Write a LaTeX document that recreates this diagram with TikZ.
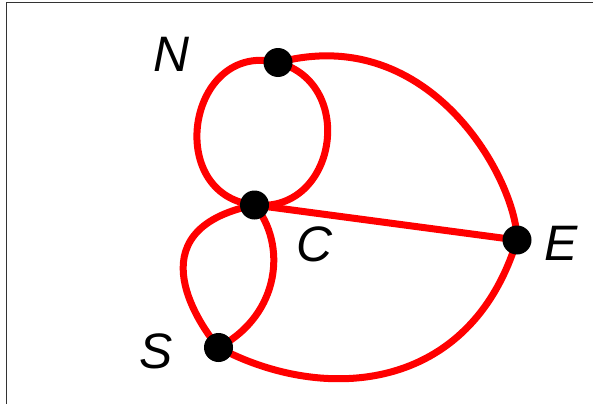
\documentclass[tikz,border=0pt]{standalone}
\usepackage{xcolor}
\usepackage{fontspec}
\setmainfont{Liberation Sans}
\usepackage{tikz}
\usetikzlibrary{positioning,backgrounds}

\begin{document}
\begin{tikzpicture}[x=1bp,y=1bp,
  vertex/.style={circle,fill=black,inner sep=0pt,minimum size=29bp},
  lbl/.style={font=\fontsize{50}{60}\selectfont\itshape,inner sep=0pt},
  edge/.style={red,line width=7bp}]
  \useasboundingbox (0,0) rectangle (593,403);
  \draw[line width=1bp,black!80] (6,-10) rectangle (610,400.5);

  \node[vertex] (N) at (278,340.5) {};
  \node[vertex] (C) at (254.5,198) {};
  \node[vertex] (E) at (517,163) {};
  \node[vertex] (S) at (218.5,55.5) {};

  \node[lbl] (lN) at (171.5,348.5) {N};
  \node[lbl] (lC) at (314,159) {C};
  \node[lbl] (lE) at (561.5,159.5) {E};
  \node[lbl] (lS) at (156.5,51.5) {S};

  \begin{scope}[on background layer]
    \draw[edge] (N.center) to[out=166,in=174,out distance=93bp,in distance=92bp] (C.center);
    \draw[edge] (N.center) to[out=-15,in=-6,out distance=82bp,in distance=82bp] (C.center);
    \draw[edge] (C.center) to[out=191.5,in=130.5,out distance=128bp,in distance=22bp] (S.center);
    \draw[edge] (C.center) to[out=-50,in=28,out distance=50bp,in distance=71bp] (S.center);
    \draw[edge] (N.center) to[out=15,in=90,out distance=159bp,in distance=58bp] (E.center);
    \draw[edge] (S.center) to[out=-28,in=-107,out distance=120bp,in distance=160bp] (E.center);
    \draw[edge] (C.center) -- (E.center);
  \end{scope}
\end{tikzpicture}
\end{document}
